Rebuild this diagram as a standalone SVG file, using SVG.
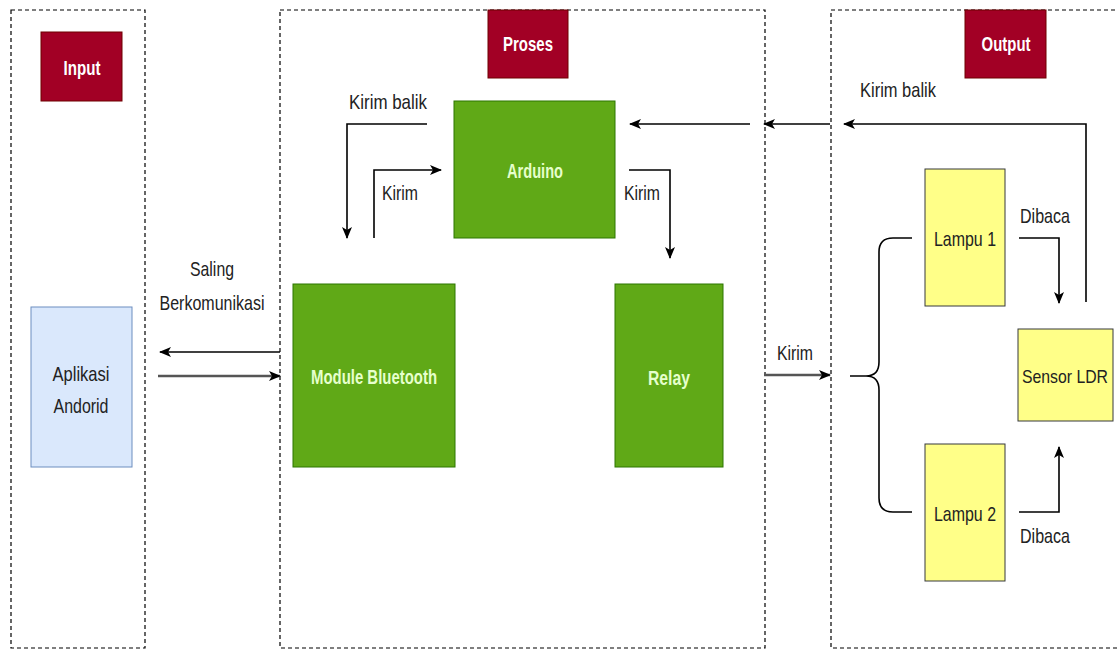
<svg xmlns="http://www.w3.org/2000/svg" width="1118" height="650" viewBox="0 0 1118 650">
<defs>
<marker id="ah" markerWidth="12" markerHeight="10" refX="11" refY="5" orient="auto" markerUnits="userSpaceOnUse">
<path d="M0,0 L12,5 L0,10 L3,5 Z" fill="#000"/>
</marker>
</defs>
<style>
.zone{fill:none;stroke:#000;stroke-width:1.2;stroke-dasharray:4 3}
.title rect{fill:#a20025;stroke:#6f0000;stroke-width:1}
.green rect{fill:#60a917;stroke:#2d7600;stroke-width:1}
.yellow rect{fill:#ffff88;stroke:#36393d;stroke-width:1}
.blue rect{fill:#dae8fc;stroke:#6c8ebf;stroke-width:1}
text{font-family:"Liberation Sans",Arial,sans-serif;font-size:21px;text-anchor:middle;dominant-baseline:central}
.wt{fill:#fff;font-weight:bold}
.gt{fill:#e6ffcc;font-weight:bold}
.dt{fill:#222}
.lbl{fill:#222}
.c{fill:none;stroke:#000;stroke-width:1.6}
.cg{fill:none;stroke:#555;stroke-width:2.4}
</style>
<g id="zones">
<rect class="zone" x="11" y="10" width="134" height="638"/>
<rect class="zone" x="280" y="10" width="485" height="638"/>
<rect class="zone" x="831" y="10" width="300" height="638"/>
</g>
<g id="title-input" class="title"><rect x="41" y="32" width="81" height="69"/><text class="wt" x="82" y="67" textLength="37" lengthAdjust="spacingAndGlyphs">Input</text></g>
<g id="title-proses" class="title"><rect x="488" y="10" width="80" height="68"/><text class="wt" x="528" y="43" textLength="50" lengthAdjust="spacingAndGlyphs">Proses</text></g>
<g id="title-output" class="title"><rect x="965" y="10" width="81" height="68"/><text class="wt" x="1006" y="43" textLength="49" lengthAdjust="spacingAndGlyphs">Output</text></g>
<g id="aplikasi" class="blue"><rect x="31" y="307" width="101" height="160"/><text class="dt" x="81" y="373" textLength="57" lengthAdjust="spacingAndGlyphs">Aplikasi</text><text class="dt" x="81" y="405" textLength="55" lengthAdjust="spacingAndGlyphs">Andorid</text></g>
<g id="bluetooth" class="green"><rect x="293" y="284" width="162" height="183"/><text class="gt" x="374" y="376" textLength="126" lengthAdjust="spacingAndGlyphs">Module Bluetooth</text></g>
<g id="arduino" class="green"><rect x="454" y="101" width="161" height="137"/><text class="gt" x="535" y="170" textLength="56" lengthAdjust="spacingAndGlyphs">Arduino</text></g>
<g id="relay" class="green"><rect x="615" y="284" width="108" height="183"/><text class="gt" x="669" y="377" textLength="42" lengthAdjust="spacingAndGlyphs">Relay</text></g>
<g id="lampu1" class="yellow"><rect x="925" y="169" width="80" height="137"/><text class="dt" x="965" y="238" textLength="62" lengthAdjust="spacingAndGlyphs">Lampu 1</text></g>
<g id="lampu2" class="yellow"><rect x="925" y="444" width="80" height="137"/><text class="dt" x="965" y="513" textLength="62" lengthAdjust="spacingAndGlyphs">Lampu 2</text></g>
<g id="sensor" class="yellow"><rect x="1018" y="329" width="95" height="92"/><text class="dt" x="1065" y="376" style="font-size:19px" textLength="86" lengthAdjust="spacingAndGlyphs">Sensor LDR</text></g>
<g id="connectors">
<path class="c" d="M280,352 H160" marker-end="url(#ah)"/>
<path class="cg" d="M158,376 H280" marker-end="url(#ah)"/>
<path class="c" d="M427,124 H347 V238" marker-end="url(#ah)"/>
<path class="c" d="M374,238 V170 H441" marker-end="url(#ah)"/>
<path class="c" d="M629,170 H670 V258" marker-end="url(#ah)"/>
<path class="c" d="M1086,302 V124 H844" marker-end="url(#ah)"/>
<path class="c" d="M830,124 H764" marker-end="url(#ah)"/>
<path class="c" d="M750,124 H630" marker-end="url(#ah)"/>
<path class="cg" d="M764,375 H830" marker-end="url(#ah)"/>
<path class="c" d="M850,376 H866 Q879,376 879,362 V252 Q879,238 893,238 H912 M866,376 Q879,376 879,390 V498 Q879,512 893,512 H912"/>
<path class="c" d="M1019,238 H1059 V303" marker-end="url(#ah)"/>
<path class="c" d="M1019,512 H1059 V447" marker-end="url(#ah)"/>
</g>
<g id="labels">
<text class="lbl" x="388" y="101" textLength="78" lengthAdjust="spacingAndGlyphs">Kirim balik</text>
<text class="lbl" x="400" y="192" textLength="36" lengthAdjust="spacingAndGlyphs">Kirim</text>
<text class="lbl" x="642" y="192" textLength="36" lengthAdjust="spacingAndGlyphs">Kirim</text>
<text class="lbl" x="898" y="89" textLength="76" lengthAdjust="spacingAndGlyphs">Kirim balik</text>
<text class="lbl" x="1045" y="215" textLength="50" lengthAdjust="spacingAndGlyphs">Dibaca</text>
<text class="lbl" x="1045" y="535" textLength="50" lengthAdjust="spacingAndGlyphs">Dibaca</text>
<text class="lbl" x="212" y="268" textLength="44" lengthAdjust="spacingAndGlyphs">Saling</text>
<text class="lbl" x="212" y="302" textLength="105" lengthAdjust="spacingAndGlyphs">Berkomunikasi</text>
<text class="lbl" x="795" y="352" textLength="36" lengthAdjust="spacingAndGlyphs">Kirim</text>
</g>
</svg>
